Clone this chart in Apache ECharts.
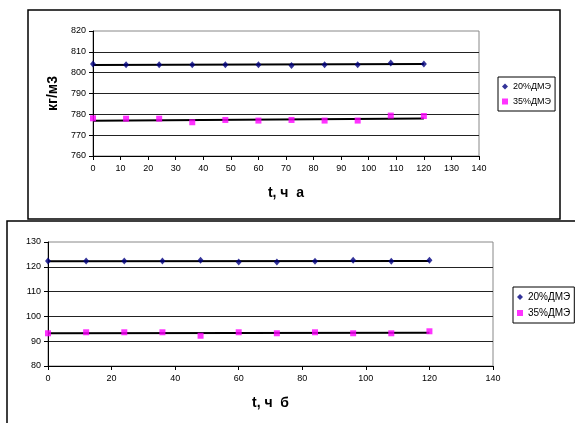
<!DOCTYPE html>
<html lang="ru">
<head>
    <meta charset="UTF-8">
    <title>Плотность</title>
    <style>
        html, body { margin: 0; padding: 0; background: #fff; }
    </style>
</head>
<body>
<div id="chartBox" style="width: 575px;height: 423px;"></div>
<script type="text/javascript" src="https://cdn.jsdelivr.net/npm/echarts@6/dist/echarts.min.js"></script>
<script type="text/javascript">
    // время отбора проб, ч
    var hours = [0, 12, 24, 36, 48, 60, 72, 84, 96, 108, 120];

    // график а: плотность, кг/м3
    var densA20 = [804.2, 803.8, 803.8, 803.8, 803.8, 803.8, 803.5, 803.8, 803.8, 804.6, 804.2];
    var densA35 = [778.1, 777.9, 777.9, 776.2, 777.3, 777.0, 777.3, 777.0, 777.0, 779.4, 779.2];
    var trendA20 = [803.7, 804.2];   // линии тренда, значения при t = 0 и t = 120
    var trendA35 = [776.9, 778.0];

    // график б
    var valB20 = [122.3, 122.3, 122.3, 122.3, 122.6, 121.9, 121.9, 122.2, 122.6, 122.2, 122.6];
    var valB35 = [93.2, 93.6, 93.6, 93.6, 92.2, 93.6, 93.2, 93.6, 93.2, 93.2, 94.0];
    var trendB20 = [122.2, 122.3];
    var trendB35 = [93.2, 93.4];
    var trendX = [0, 120];

    var seriesNames = ['20%ДМЭ', '35%ДМЭ'];
    var font = 'Liberation Sans, Arial, sans-serif';

    function pairs(xs, ys) {
        return xs.map(function (x, i) { return [x, ys[i]]; });
    }

    function xAxisCfg(idx, interval, title) {
        return {
            gridIndex: idx, type: 'value', min: 0, max: 140, interval: interval,
            axisLine: { onZero: false, lineStyle: { color: '#000', width: 1 } },
            axisTick: { length: 4, lineStyle: { color: '#000' } },
            axisLabel: { fontSize: 9, color: '#000', margin: 8, fontFamily: font },
            splitLine: { show: false },
            name: title, nameLocation: 'middle', nameGap: 30,
            nameTextStyle: { fontSize: 14, fontWeight: 'bold', color: '#000', fontFamily: font }
        };
    }

    function yAxisCfg(idx, min, max, title) {
        return {
            gridIndex: idx, type: 'value', min: min, max: max, interval: 10,
            axisLine: { onZero: false, lineStyle: { color: '#000', width: 1 } },
            axisTick: { length: 4, lineStyle: { color: '#000' } },
            axisLabel: { fontSize: 9, color: '#000', margin: 7, fontFamily: font },
            splitLine: { show: true, showMinLine: false, showMaxLine: false, lineStyle: { color: '#222', width: 1 } },
            name: title, nameLocation: 'middle', nameGap: 27,
            nameTextStyle: { fontSize: 14, fontWeight: 'bold', color: '#000', fontFamily: font }
        };
    }

    function legendCfg(left, top, size) {
        return {
            left: left, top: top, orient: 'vertical',
            data: [{ name: seriesNames[0], icon: 'diamond' }, { name: seriesNames[1], icon: 'rect' }],
            itemWidth: 6, itemHeight: 6, itemGap: 6,
            padding: [5, 4, 5, 4], borderColor: '#000', borderWidth: 1, borderRadius: 0,
            selectedMode: false,
            textStyle: { fontSize: size, color: '#000', fontFamily: font }
        };
    }

    function scatter(name, idx, ys, symbol, size, color) {
        return {
            name: name, type: 'scatter', xAxisIndex: idx, yAxisIndex: idx,
            data: pairs(hours, ys), symbol: symbol, symbolSize: size,
            itemStyle: { color: color }, z: 4
        };
    }

    function trend(idx, ys) {
        return {
            name: 'trend' + idx, type: 'line', xAxisIndex: idx, yAxisIndex: idx,
            data: pairs(trendX, ys), showSymbol: false, symbol: 'none',
            lineStyle: { color: '#000', width: 2 }, silent: true, z: 3
        };
    }

    var myChart = echarts.init(document.getElementById('chartBox'));
    myChart.setOption({
        animation: false,
        backgroundColor: '#fff',
        graphic: [
            { type: 'rect', shape: { x: 28, y: 10, width: 532, height: 209 },
              style: { fill: 'none', stroke: '#000', lineWidth: 1.5 } },
            { type: 'polyline', shape: { points: [[576, 221], [7, 221], [7, 424]] },
              style: { fill: 'none', stroke: '#000', lineWidth: 1.5 } }
        ],
        grid: [
            { left: 93, top: 31, width: 386, height: 125, show: true, borderColor: '#888', borderWidth: 1 },
            { left: 48, top: 242, width: 445, height: 124, show: true, borderColor: '#888', borderWidth: 1 }
        ],
        legend: [legendCfg(498, 77, 9), legendCfg(513, 287, 10)],
        xAxis: [xAxisCfg(0, 10, 't, ч  а'), xAxisCfg(1, 20, 't, ч  б')],
        yAxis: [yAxisCfg(0, 760, 820, 'кг/м3'), yAxisCfg(1, 80, 130, '')],
        series: [
            trend(0, trendA20),
            trend(0, trendA35),
            scatter(seriesNames[0], 0, densA20, 'diamond', [6, 7], '#000080'),
            scatter(seriesNames[1], 0, densA35, 'rect', 6, '#ff00ff'),
            trend(1, trendB20),
            trend(1, trendB35),
            scatter(seriesNames[0], 1, valB20, 'diamond', [6, 7], '#000080'),
            scatter(seriesNames[1], 1, valB35, 'rect', 6, '#ff00ff')
        ]
    });
</script>
</body>
</html>
